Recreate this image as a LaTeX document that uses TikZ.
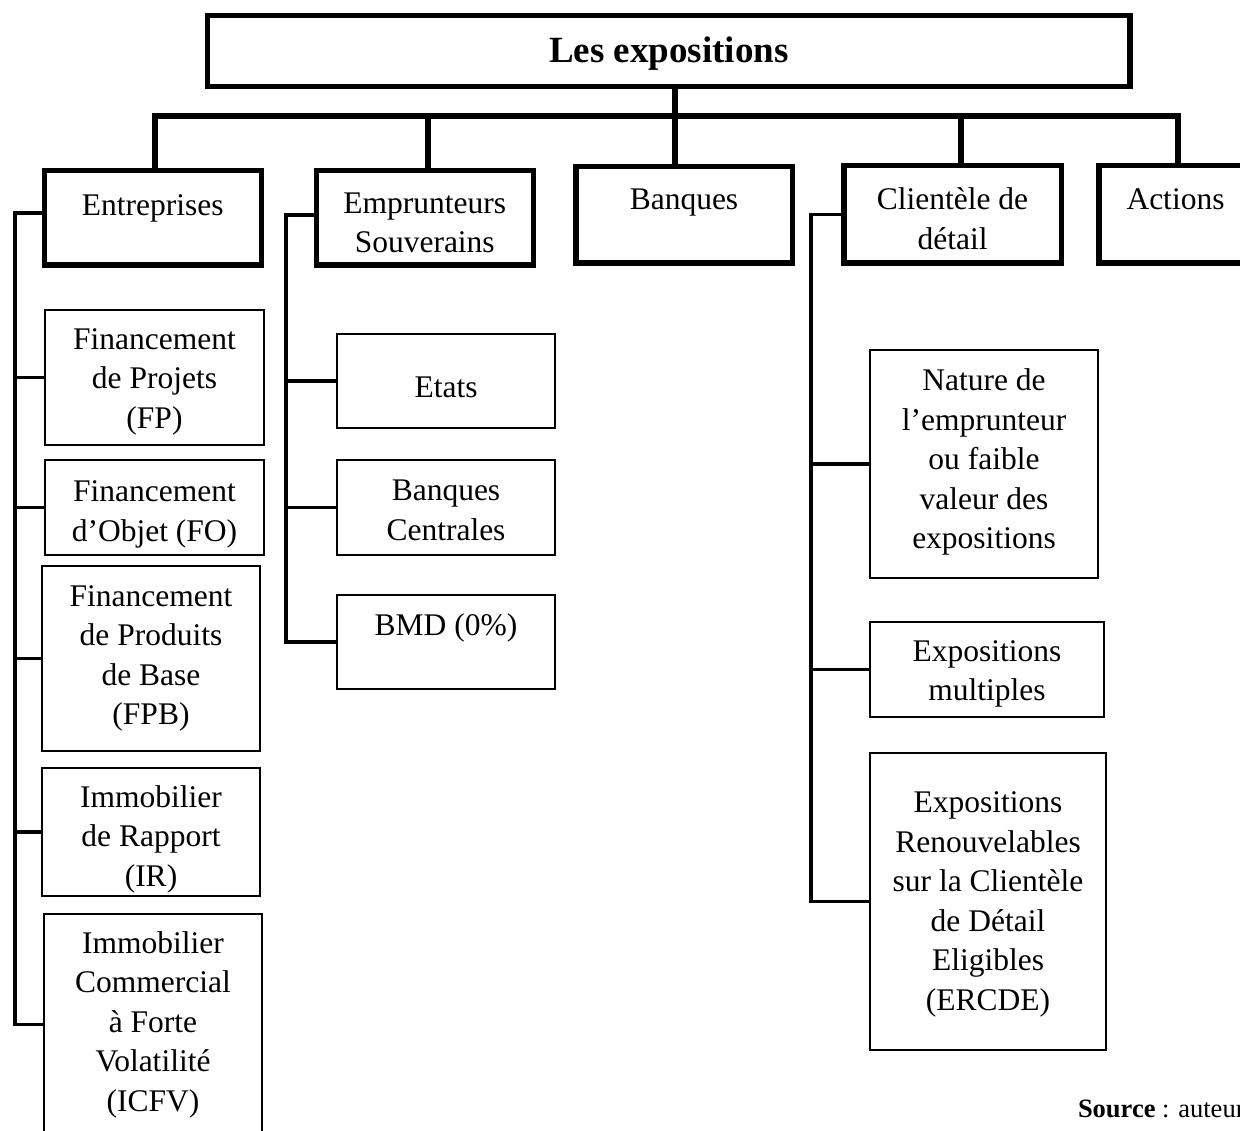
\documentclass[tikz,border=0pt]{standalone}
\usepackage{fontspec}
\setmainfont{Liberation Serif}
\begin{document}
\begin{tikzpicture}[x=1pt,y=-1pt,
  every node/.style={outer sep=0pt, inner sep=0pt, align=center,
                     font=\fontsize{31.5}{39.5}\selectfont},
  head/.style={draw, rectangle, line width=5.5pt},
  leaf/.style={draw, rectangle, line width=1.8pt},
  trunk/.style={line width=5.5pt, line join=miter},
  branch/.style={line width=3.5pt, line join=miter},
]
\useasboundingbox (0,0) rectangle (1240,1131);

% title
\node[head, minimum width=922.5pt, minimum height=71pt] (title) at (668.75,51) {};
\node[font=\fontsize{37}{44}\selectfont\bfseries] (title-t) at ([yshift=-3pt]title.center) {Les expositions};

% main categories
\node[head, minimum width=217pt, minimum height=94.5pt] (ent) at (152.75,218) {};
\node[head, minimum width=217pt, minimum height=94.5pt] (emp) at (424.75,218) {};
\node[head, minimum width=216.5pt, minimum height=96.5pt] (banq) at (684,215) {};
\node[head, minimum width=217.5pt, minimum height=97.5pt] (cli) at (952.5,214.5) {};
\node[head, minimum width=153pt, minimum height=97.5pt] (act) at (1175.5,214.5) {};
\node (ent-t)  at ([yshift=10pt]ent.center)   {Entreprises};
\node (emp-t)  at ([yshift=-5pt]emp.center)   {Emprunteurs\\Souverains};
\node (banq-t) at ([yshift=12pt]banq.center)  {Banques};
\node (cli-t)  at ([yshift=-4pt]cli.center)   {Clientèle de\\détail};
\node (act-t)  at ([yshift=15.5pt]act.center) {Actions};

% Entreprises sub-classes
\node[leaf, minimum width=219pt, minimum height=135pt] (fp) at (154.5,377.5) {};
\node[leaf, minimum width=219pt, minimum height=95pt] (fo) at (154.5,507.5) {};
\node[leaf, minimum width=218pt, minimum height=185pt] (fpb) at (151,658.5) {};
\node[leaf, minimum width=218pt, minimum height=128pt] (ir) at (151,832) {};
\node[leaf, minimum width=218pt, minimum height=221pt] (icfv) at (153,1024.5) {};
\node (fp-t)   at ([yshift=-4pt]fp.center) {Financement\\de Projets\\(FP)};
\node (fo-t)   at ([yshift=-7pt]fo.center) {Financement\\d’Objet (FO)};
\node (fpb-t)  at (fpb.center)             {Financement\\de Produits\\de Base\\(FPB)};
\node (ir-t)   at ([yshift=-7pt]ir.center) {Immobilier\\de Rapport\\(IR)};
\node (icfv-t) at (icfv.center)            {Immobilier\\Commercial\\à Forte\\Volatilité\\(ICFV)};

% Emprunteurs souverains sub-classes
\node[leaf, minimum width=218pt, minimum height=94pt] (etats) at (446,381) {};
\node[leaf, minimum width=218pt, minimum height=95pt] (bc) at (446,507.5) {};
\node[leaf, minimum width=218pt, minimum height=94pt] (bmd) at (446,642) {};
\node (etats-t) at ([yshift=-6pt]etats.center) {Etats};
\node (bc-t)    at ([yshift=-3pt]bc.center)    {Banques\\Centrales};
\node (bmd-t)   at ([yshift=14pt]bmd.center)   {BMD (0\%)};

% Clientele de detail sub-classes
\node[leaf, minimum width=228pt, minimum height=228pt] (nat) at (984,464) {};
\node[leaf, minimum width=234pt, minimum height=95pt] (expm) at (987,669.5) {};
\node[leaf, minimum width=236pt, minimum height=297pt] (ercde) at (988,901.5) {};
\node (nat-t)   at ([yshift=2pt]nat.center)     {Nature de\\l’emprunteur\\ou faible\\valeur des\\expositions};
\node (expm-t)  at ([yshift=-4.5pt]expm.center) {Expositions\\multiples};
\node (ercde-t) at ([yshift=-3pt]ercde.center)  {Expositions\\Renouvelables\\sur la Clientèle\\de Détail\\Eligibles\\(ERCDE)};

% bus from the title to the main categories
\coordinate (busy) at (0,116);
\coordinate (entx) at (155,0);
\coordinate (empx) at (428,0);
\coordinate (bk) at (675,0);
\coordinate (clix) at (961,0);
\coordinate (actx) at (1178,0);
\draw[trunk] (bk |- title.south) -- (bk |- banq.north);
\draw[trunk] (entx |- ent.north) |- (actx |- busy) -- (actx |- act.north);
\draw[trunk] (empx |- busy) -- (empx |- emp.north);
\draw[trunk] (clix |- busy) -- (clix |- cli.north);

% side trunks to the sub-classes
\coordinate (entL) at (15,0);
\coordinate (empL) at (286,0);
\coordinate (cliL) at (811,0);
\draw[branch] ([yshift=5pt]ent.west) -| (entL |- icfv.west) -- (icfv.west);
\foreach \n in {fp,fo,fpb,ir} \draw[branch] (entL |- \n.west) -- (\n.west);
\draw[branch] ([yshift=3pt]emp.west) -| (empL |- bmd.west) -- (bmd.west);
\foreach \n in {etats,bc} \draw[branch] (empL |- \n.west) -- (\n.west);
\draw[branch] (cli.west) -| (cliL |- ercde.west) -- (ercde.west);
\foreach \n in {nat,expm} \draw[branch] (cliL |- \n.west) -- (\n.west);

% source note
\node[anchor=base west, font=\fontsize{26.5}{30}\selectfont] (src) at (1078,1117) {\textbf{Source} : auteur};
\end{tikzpicture}
\end{document}
